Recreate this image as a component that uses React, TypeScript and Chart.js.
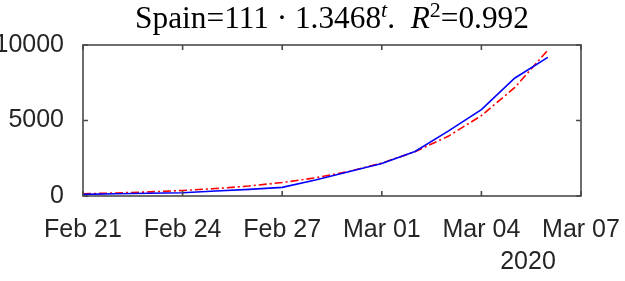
import React, { useEffect, useRef } from "react";
import { Chart, registerables } from "chart.js";

Chart.register(...registerables);

// Days since Feb 21, 2020 (Feb 21 .. Mar 06)
const dayIndex = [0, 1, 2, 3, 4, 5, 6, 7, 8, 9, 10, 11, 12, 13, 14];
const dates = [
  "Feb 21", "Feb 22", "Feb 23", "Feb 24", "Feb 25", "Feb 26", "Feb 27", "Feb 28",
  "Feb 29", "Mar 01", "Mar 02", "Mar 03", "Mar 04", "Mar 05", "Mar 06",
];
// Observed cases (blue)
const observed = [110, 150, 185, 220, 330, 440, 570, 1060, 1610, 2150, 2950, 4300, 5720, 7800, 9180];
// Fitted exponential 111*1.3468^t (red dash-dot)
const fitted = [150, 201, 271, 365, 492, 662, 892, 1202, 1618, 2180, 2935, 3953, 5324, 7171, 9658];

const xTickValues = [0, 3, 6, 9, 12, 15];
const xTickLabels = ["Feb 21", "Feb 24", "Feb 27", "Mar 01", "Mar 04", "Mar 07"];
const yTickValues = [0, 5000, 10000];
const yearLabel = "2020";

const AXIS_COLOR = "#4a4a4a";
const TEXT_COLOR = "#262626";
const SANS = "'Liberation Sans', Arial, Helvetica, sans-serif";
const SERIF = "'Liberation Serif', 'Times New Roman', serif";

const boxPlugin = {
  id: "matlabBox",
  afterDraw(chart: any) {
    const { ctx, chartArea, scales } = chart;
    const { left, right, top, bottom } = chartArea;
    ctx.save();
    ctx.strokeStyle = AXIS_COLOR;
    ctx.lineWidth = 1.6;
    ctx.strokeRect(left, top, right - left, bottom - top);
    const tl = 5;
    ctx.beginPath();
    for (const v of xTickValues) {
      const px = scales.x.getPixelForValue(v);
      ctx.moveTo(px, bottom);
      ctx.lineTo(px, bottom - tl);
      ctx.moveTo(px, top);
      ctx.lineTo(px, top + tl);
    }
    for (const v of yTickValues) {
      const py = scales.y.getPixelForValue(v);
      ctx.moveTo(left, py);
      ctx.lineTo(left + tl, py);
      ctx.moveTo(right, py);
      ctx.lineTo(right - tl, py);
    }
    ctx.stroke();

    // year label
    ctx.fillStyle = TEXT_COLOR;
    ctx.font = `25px ${SANS}`;
    ctx.textAlign = "center";
    ctx.textBaseline = "alphabetic";
    ctx.fillText(yearLabel, right - 53, bottom + 73);

    // title
    const base = 30;
    const mk = (s: number) => {
      const big = base * s;
      const small = 21 * s;
      return [
        { t: "Spain=111 \u00B7 1.3468", font: `${big}px ${SERIF}`, dy: 0 },
        { t: "t", font: `italic ${small}px ${SERIF}`, dy: -11 },
        { t: ".  ", font: `${big}px ${SERIF}`, dy: 0 },
        { t: "R", font: `italic ${big}px ${SERIF}`, dy: 0 },
        { t: "2", font: `${small}px ${SERIF}`, dy: -11 },
        { t: "=0.992", font: `${big}px ${SERIF}`, dy: 0 },
      ];
    };
    const measure = (parts: any[]) =>
      parts.map((p) => {
        ctx.font = p.font;
        return ctx.measureText(p.t).width;
      });
    let parts = mk(1);
    let widths = measure(parts);
    let total = widths.reduce((a: number, b: number) => a + b, 0);
    const s = 394 / total;
    parts = mk(s);
    widths = measure(parts);
    total = widths.reduce((a: number, b: number) => a + b, 0);
    let x = (left + right) / 2 - total / 2;
    ctx.fillStyle = "#000000";
    ctx.textAlign = "left";
    parts.forEach((p, i) => {
      ctx.font = p.font;
      ctx.fillText(p.t, x, 28 + p.dy);
      x += widths[i];
    });
    ctx.restore();
  },
};

export default function App() {
  const ref = useRef<HTMLCanvasElement | null>(null);
  useEffect(() => {
    if (!ref.current) return;
    const chart = new Chart(ref.current, {
      type: "line",
      data: {
        labels: dates,
        datasets: [
          {
            label: "Spain",
            data: dayIndex.map((d, i) => ({ x: d, y: observed[i] })),
            borderColor: "#0000ff",
            borderWidth: 1.6,
            pointRadius: 0,
            tension: 0,
            fill: false,
          },
          {
            label: "Fit",
            data: dayIndex.map((d, i) => ({ x: d, y: fitted[i] })),
            borderColor: "#ff0000",
            borderWidth: 1.6,
            borderDash: [8, 3, 2, 3],
            pointRadius: 0,
            tension: 0,
            fill: false,
          },
        ],
      },
      options: {
        animation: false,
        responsive: true,
        maintainAspectRatio: false,
        layout: { padding: { top: 45, right: 44, left: 0, bottom: 0 } },
        plugins: { legend: { display: false }, tooltip: { enabled: false }, title: { display: false } },
        scales: {
          x: {
            type: "linear",
            min: 0,
            max: 15,
            afterBuildTicks: (scale: any) => {
              scale.ticks = xTickValues.map((v) => ({ value: v }));
            },
            afterFit: (scale: any) => {
              scale.height = 85;
              scale.paddingLeft = 0;
              scale.paddingRight = 0;
            },
            ticks: {
              autoSkip: false,
              maxRotation: 0,
              padding: 19,
              color: TEXT_COLOR,
              font: { family: SANS, size: 25 },
              callback: (v: any) => {
                const i = xTickValues.indexOf(Number(v));
                return i >= 0 ? xTickLabels[i] : "";
              },
            },
            grid: { display: false, drawTicks: false },
            border: { display: false },
          },
          y: {
            min: 0,
            max: 10000,
            afterBuildTicks: (scale: any) => {
              scale.ticks = yTickValues.map((v) => ({ value: v }));
            },
            afterFit: (scale: any) => {
              scale.width = 83;
              scale.paddingTop = 0;
              scale.paddingBottom = 0;
            },
            ticks: {
              padding: 19,
              color: TEXT_COLOR,
              font: { family: SANS, size: 25 },
              callback: (v: any) => String(v),
            },
            grid: { display: false, drawTicks: false },
            border: { display: false },
          },
        },
      },
      plugins: [boxPlugin],
    });
    return () => chart.destroy();
  }, []);
  return (
    <div style={{ position: "absolute", left: 0, top: 0, width: 625, height: 281, background: "#fff" }}>
      <canvas ref={ref} />
    </div>
  );
}
